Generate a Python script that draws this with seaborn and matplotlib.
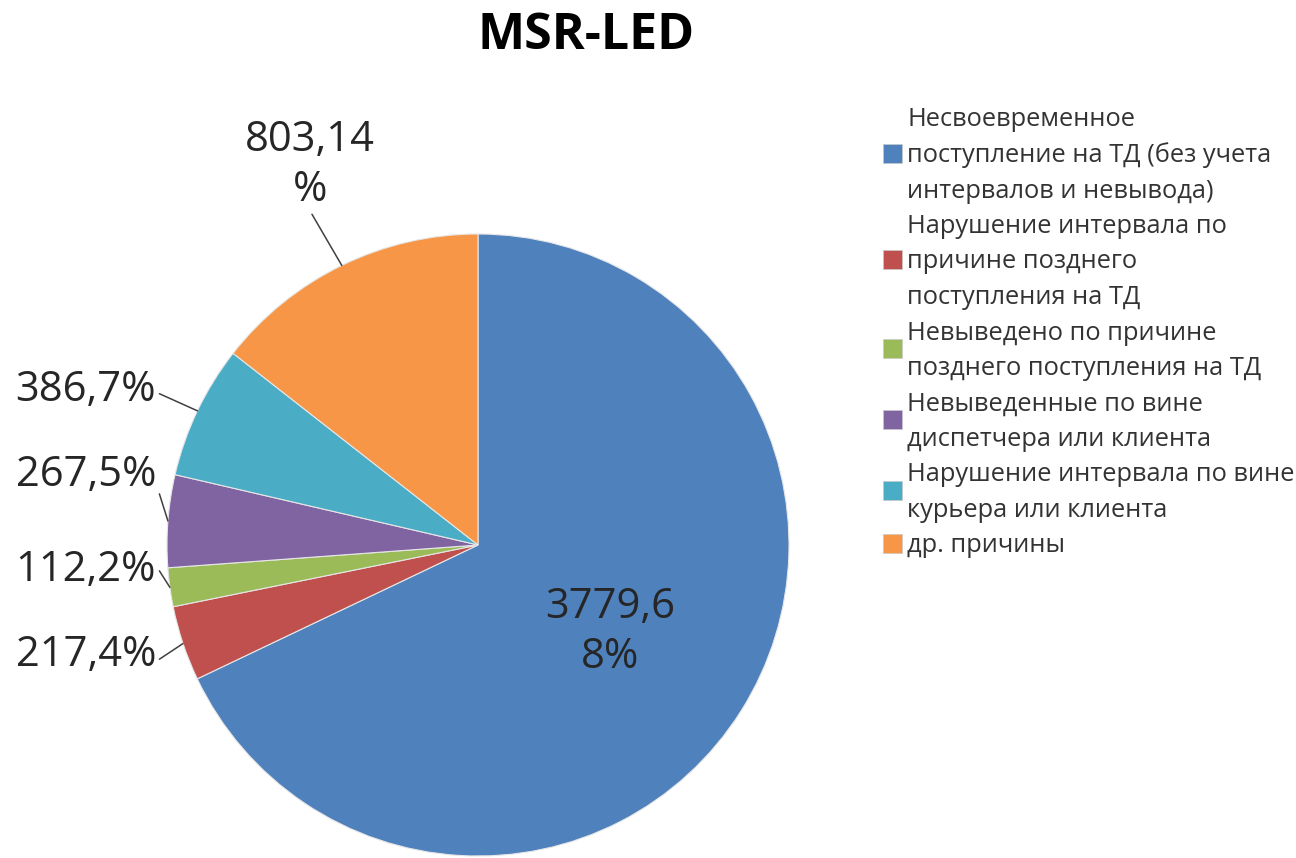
import matplotlib
matplotlib.use("Agg")
import matplotlib.pyplot as plt
from matplotlib.patches import Rectangle
import seaborn as sns
import numpy as np

# Delivery failure causes, MSR-LED
categories = [
    "Несвоевременное\nпоступление на ТД (без учета\nинтервалов и невывода)",
    "Нарушение интервала по\nпричине позднего\nпоступления на ТД",
    "Невыведено по причине\nпозднего поступления на ТД",
    "Невыведенные по вине\nдиспетчера или клиента",
    "Нарушение интервала по вине\nкурьера или клиента",
    "др. причины",
]
values = [3779, 217, 112, 267, 386, 803]
colors = ["#4F81BD", "#C0504D", "#9BBB59", "#8064A2", "#4BACC6", "#F79646"]
title = "MSR-LED"

# where each data label wraps onto a second line (None = single line)
wrap_at = [6, None, None, None, None, 6]
# label placement in pie units (radius = 1) and the anchor the leader leaves from
label_pos = [(0.424, -0.280), (-1.035, -0.354), (-1.035, -0.080),
             (-1.035, 0.225), (-1.035, 0.498), (-0.540, 1.222)]
label_ha = ["center", "right", "right", "right", "right", "center"]
leader_rel = [None, (1.0, 0.35), (1.0, 0.6), (1.0, 0.3), (1.0, 0.45), (0.5, 0.0)]

sns.set_theme(style="white")
plt.rcParams["font.family"] = ["Open Sans", "DejaVu Sans"]

W, H = 1296, 858
fig = plt.figure(figsize=(W / 100, H / 100), dpi=100)
fig.patch.set_facecolor("white")

cx, cy, r = 478, 545, 311
ax = fig.add_axes([(cx - r) / W, (H - cy - r) / H, 2 * r / W, 2 * r / H])

wedges, _ = ax.pie(values, colors=colors, startangle=90, counterclock=False,
                   radius=1.0, center=(0, 0),
                   wedgeprops=dict(edgecolor="#e6e6e6", linewidth=0.8))
ax.set_xlim(-1, 1)
ax.set_ylim(-1, 1)
ax.set_aspect("equal")
ax.axis("off")

total = sum(values)
for i, (v, w) in enumerate(zip(values, wedges)):
    txt = f"{v},{round(100 * v / total)}%"
    if wrap_at[i] is not None:
        txt = txt[:wrap_at[i]] + "\n" + txt[wrap_at[i]:]
    mid = np.deg2rad((w.theta1 + w.theta2) / 2)
    edge = (np.cos(mid), np.sin(mid))
    tx, ty = label_pos[i]
    if leader_rel[i] is None:
        ax.text(tx, ty, txt, ha="center", va="center", fontsize=30,
                color="#262626", linespacing=1.25)
    else:
        ax.annotate(txt, xy=edge, xytext=(tx, ty), ha=label_ha[i], va="center",
                    fontsize=30, color="#262626", linespacing=1.25,
                    annotation_clip=False,
                    arrowprops=dict(arrowstyle="-", color="#404040", lw=1.1,
                                    relpos=leader_rel[i], shrinkA=0, shrinkB=0))

fig.text(586 / W, 1 - 36 / H, title, ha="center", va="center",
         fontsize=36, fontweight="bold", color="black")

# legend: one text row per line, swatch centred on each entry's lines
leg_x_box, leg_x_text = 883, 907
first_baseline, line_step, box = 126.5, 35.5, 19
row = 0
for cat, col in zip(categories, colors):
    lines = cat.split("\n")
    baselines = []
    for ln in lines:
        b = first_baseline + line_step * row
        baselines.append(b)
        fig.text(leg_x_text / W, 1 - b / H, ln, ha="left", va="baseline",
                 fontsize=18.3, color="#333333")
        row += 1
    yc = np.mean(baselines) - 9
    fig.add_artist(Rectangle((leg_x_box / W, 1 - (yc + box / 2) / H), box / W, box / H,
                             transform=fig.transFigure, facecolor=col,
                             edgecolor="#c8c8c8", linewidth=0.5))

fig.savefig("out.png", dpi=100)
